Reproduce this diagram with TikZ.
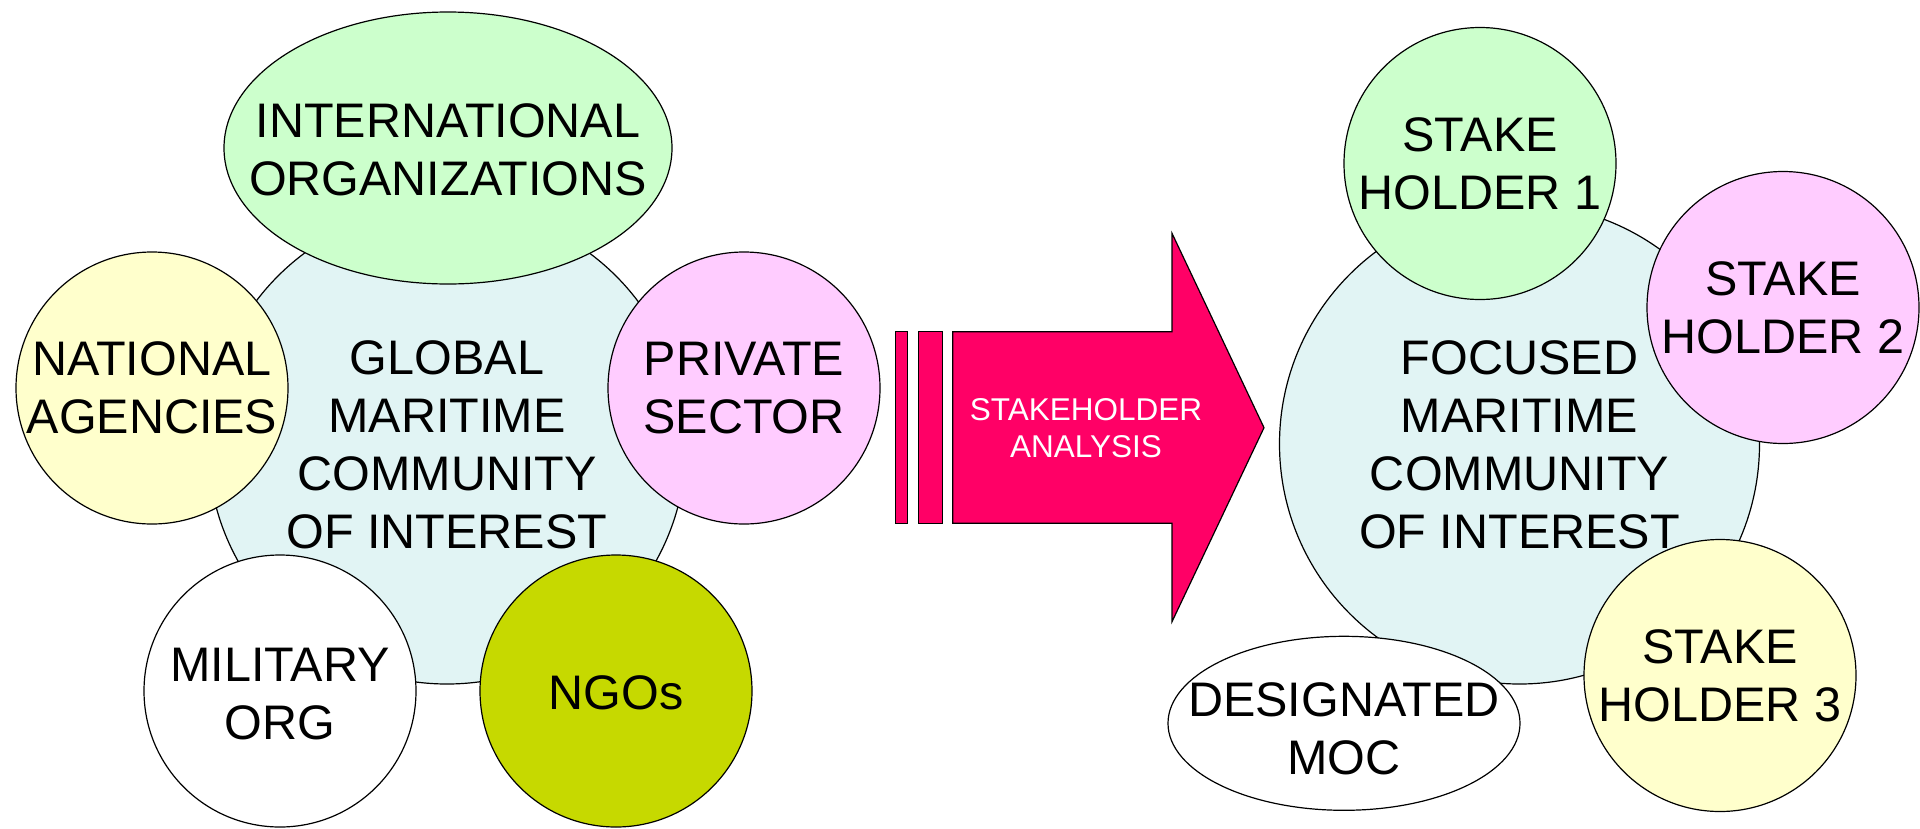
\documentclass[tikz,border=0pt]{standalone}
\usepackage{fontspec}
\setmainfont{Liberation Sans}
\usetikzlibrary{shapes.geometric}
\definecolor{bigc}{HTML}{E1F4F4}
\definecolor{gr}{HTML}{CCFFCC}
\definecolor{ye}{HTML}{FFFFCC}
\definecolor{pk}{HTML}{FFCCFF}
\definecolor{ngo}{HTML}{C6D900}
\definecolor{arr}{HTML}{FF0066}
\tikzset{
  txt/.style={align=center,font=\fontsize{48.5}{58}\selectfont,text=black},
  bigcirc/.style={circle,draw=black,line width=1.2pt,fill=bigc,minimum size=480pt,inner sep=0pt},
  satc/.style={circle,draw=black,line width=1.2pt,minimum size=272pt,inner sep=0pt},
  ell/.style={ellipse,draw=black,line width=1.2pt,inner sep=0pt},
  arrshape/.style={draw=black,line width=1.2pt,fill=arr,line join=miter}
}
\begin{document}
\begin{tikzpicture}[x=1pt,y=-1pt]
\useasboundingbox (0,0) rectangle (1920,828);
% left group
\node[bigcirc,minimum size=478pt] (gmc) at (447,445) {};
\node[ell,fill=gr,minimum width=448pt,minimum height=272pt] (io) at (448,148) {};
\node[txt] at ([yshift=-2pt]io.center) {INTERNATIONAL\\ORGANIZATIONS};
\node[satc,fill=ye] (na) at (152,388) {};
\node[txt] at (na) {NATIONAL\\AGENCIES};
\node[satc,fill=pk] (ps) at (744,388) {};
\node[txt] at (ps) {PRIVATE\\SECTOR};
\node[satc,fill=white] (mo) at (280,691) {};
\node[txt] at ([yshift=-3pt]mo.center) {MILITARY\\ORG};
\node[satc,fill=ngo] (ngos) at (616,691) {};
\node[txt] at ([yshift=-2pt]ngos.center) {NGOs};
\node[txt] (gmct) at (447,445) {GLOBAL\\MARITIME\\COMMUNITY\\OF INTEREST};
% arrow
\draw[arrshape] (895.7,331.7) rectangle (907.3,523.3);
\draw[arrshape] (918.7,331.7) rectangle (942.3,523.3);
\draw[arrshape] (952.7,331.7) -- (1172,331.7) -- (1172,233.3) -- (1264,427.7)
  -- (1172,621.7) -- (1172,523.3) -- (952.7,523.3) -- cycle;
\node[align=center,font=\fontsize{31.5}{37}\selectfont,text=white] (sa) at (1086,428) {STAKEHOLDER\\ANALYSIS};
% right group
\node[bigcirc] (fmc) at (1519.5,444) {};
\node[satc,fill=gr] (s1) at (1480,163.5) {};
\node[txt] at (s1) {STAKE\\HOLDER 1};
\node[satc,fill=pk] (s2) at (1783,307.5) {};
\node[txt] at (s2) {STAKE\\HOLDER 2};
\node[satc,fill=ye] (s3) at (1720,675.5) {};
\node[txt] at (s3) {STAKE\\HOLDER 3};
\node[ell,fill=white,minimum width=352pt,minimum height=174pt] (moc) at (1344,723.3) {};
\node[txt] at ([yshift=-5pt]moc.center) {DESIGNATED\\MOC};
\node[txt] (fmct) at (1519.5,445) {FOCUSED\\MARITIME\\COMMUNITY\\OF INTEREST};
\end{tikzpicture}
\end{document}
